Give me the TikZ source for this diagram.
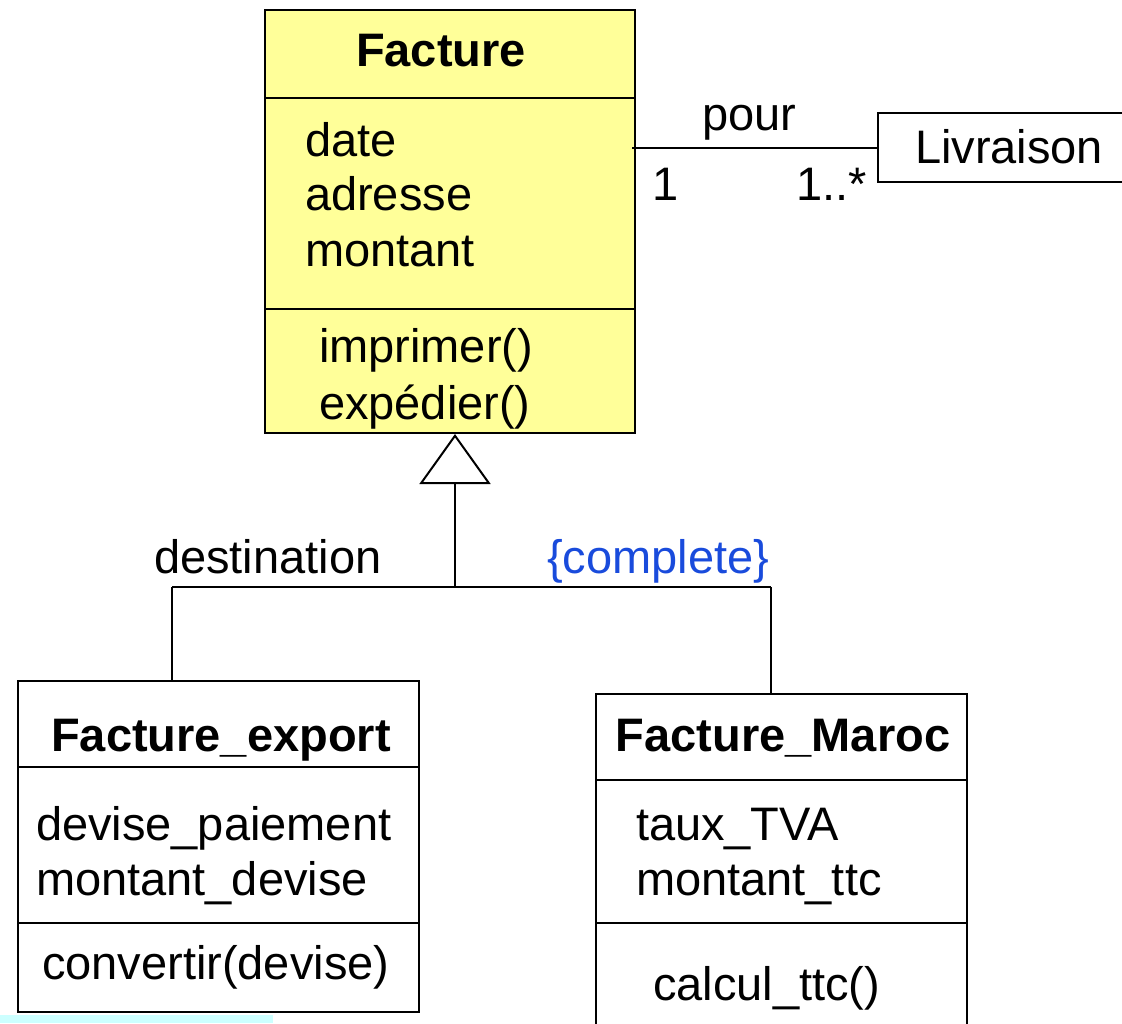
\documentclass[tikz,border=0pt]{standalone}
\usepackage{fontspec}
\setmainfont{Liberation Sans}
\usepackage{xcolor}
\usetikzlibrary{arrows.meta, positioning}
\definecolor{factyellow}{RGB}{255,255,153}
\definecolor{constrblue}{RGB}{25,75,220}
\definecolor{stripcyan}{RGB}{204,255,255}

\begin{document}
\begin{tikzpicture}[
  x=1pt, y=-1pt,
  font=\fontsize{47}{56}\selectfont,
  line width=2pt,
  classbox/.style={rectangle, draw, line width=2pt, inner sep=0pt,
                   anchor=north west},
  txt/.style={anchor=base west, inner sep=0pt},
  title/.style={anchor=base, inner sep=0pt,
                font=\fontsize{47}{56}\selectfont\bfseries},
  gen/.style={-{Triangle[open, length=50pt, width=71pt]}, line width=2pt},
]
\useasboundingbox (0,0) rectangle (1122,1023);
\fill[stripcyan] (0,1015) rectangle (273,1023);

\node[classbox, fill=factyellow, minimum width=370pt, minimum height=423pt] (facture) at (264,9) {};
\node[classbox, minimum width=401pt, minimum height=331pt] (export) at (17,680) {};
\node[classbox, minimum width=371pt, minimum height=360pt] (maroc) at (595,693) {};
\node[classbox, minimum width=260pt, minimum height=69pt] (livraison) at (877,112) {};

\draw (facture.west |- 0,98) -- (facture.east |- 0,98);
\draw (facture.west |- 0,309) -- (facture.east |- 0,309);
\draw (export.west |- 0,767) -- (export.east |- 0,767);
\draw (export.west |- 0,923) -- (export.east |- 0,923);
\draw (maroc.west |- 0,780) -- (maroc.east |- 0,780);
\draw (maroc.west |- 0,923) -- (maroc.east |- 0,923);

\node[title] (facturet) at (441,66) {Facture};
\node[txt] (date) at (304,156) {date};
\node[txt] (adresse) at (304,210) {adresse};
\node[txt] (montant) at (304,266) {montant};
\node[txt] (imprimer) at (318,362) {imprimer()};
\node[txt] (expedier) at (318,419) {expédier()};

\node[txt] (livraisont) at (914,163) {Livraison};
\node[txt] (pour) at (701,130) {pour};
\node[txt] (multa) at (651,200) {1};
\node[txt] (multb) at (795,200) {1..*};

\node[txt] (dest) at (153,573) {destination};
\node[txt, text=constrblue] (complete) at (546,573) {\{complete\}};

\node[title] (exportt) at (221,751) {Facture\_export};
\node[txt] (devisep) at (35,840) {devise\_paiement};
\node[txt] (montantd) at (35,895) {montant\_devise};
\node[txt] (convertir) at (41,979) {convertir(devise)};

\node[title] (maroct) at (783,751) {Facture\_Maroc};
\node[txt] (taux) at (635,840) {taux\_TVA};
\node[txt] (montantt) at (635,895) {montant\_ttc};
\node[txt] (calcul) at (652,1000) {calcul\_ttc()};

\coordinate (junction) at (455,587);
\coordinate (jleft) at (172,587);
\coordinate (jright) at (771,587);

\draw (livraison.west) -- ([xshift=-4pt]facture.east |- livraison.west);
\draw[gen] (junction) -- (junction |- facture.south);
\draw (jleft) -- (jright);
\draw (jleft) -- (jleft |- export.north);
\draw (jright) -- (jright |- maroc.north);
\end{tikzpicture}
\end{document}
